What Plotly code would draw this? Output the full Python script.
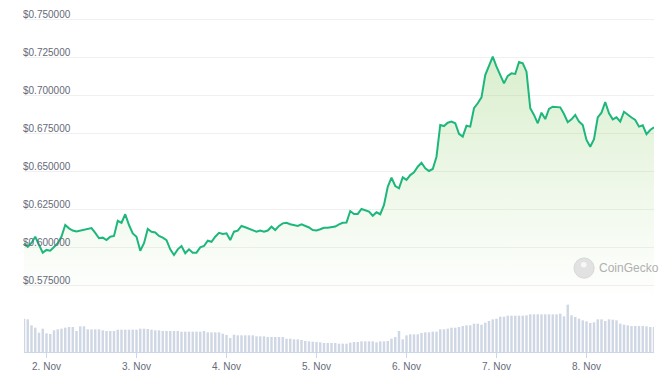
import plotly.graph_objects as go
import pandas as pd

# ---- data (hourly, 1 Nov 18:00 -> 8 Nov 18:00) ----
start_time = "2023-11-01 18:00"

price = [
    0.6025, 0.6002, 0.6027, 0.6068, 0.6015, 0.5963,
    0.5981, 0.5976, 0.6000, 0.6025, 0.6069, 0.6145, 0.6123, 0.6109, 0.6102, 0.6108, 0.6112, 0.6117,
    0.6125, 0.6093, 0.6058, 0.6062, 0.6046, 0.6068, 0.6073, 0.6173, 0.6160, 0.6216, 0.6145, 0.6090,
    0.6068, 0.5976, 0.6025, 0.6119, 0.6101, 0.6096, 0.6073, 0.6062, 0.6046, 0.5985, 0.5948, 0.5985,
    0.6007, 0.5959, 0.5985, 0.5963, 0.5963, 0.5998, 0.6007, 0.6042, 0.6035, 0.6068, 0.6094, 0.6086,
    0.6090, 0.6046, 0.6101, 0.6108, 0.6139, 0.6130, 0.6121, 0.6112, 0.6101, 0.6108, 0.6101, 0.6109,
    0.6134, 0.6112, 0.6139, 0.6156, 0.6160, 0.6150, 0.6145, 0.6139, 0.6150, 0.6139, 0.6129, 0.6112,
    0.6109, 0.6117, 0.6127, 0.6127, 0.6129, 0.6135, 0.6149, 0.6160, 0.6162, 0.6237, 0.6218, 0.6218,
    0.6251, 0.6244, 0.6233, 0.6206, 0.6229, 0.6216, 0.6277, 0.6397, 0.6457, 0.6402, 0.6387, 0.6459,
    0.6442, 0.6474, 0.6492, 0.6529, 0.6555, 0.6519, 0.6501, 0.6514, 0.6595, 0.6804, 0.6797, 0.6819,
    0.6826, 0.6815, 0.6745, 0.6727, 0.6799, 0.6793, 0.6914, 0.6947, 0.6986, 0.7133, 0.7188, 0.7254,
    0.7188, 0.7133, 0.7078, 0.7127, 0.7144, 0.7140, 0.7219, 0.7210, 0.7155, 0.6914, 0.6870, 0.6815,
    0.6885, 0.6843, 0.6909, 0.6924, 0.6922, 0.6920, 0.6876, 0.6822, 0.6841, 0.6870, 0.6826, 0.6804,
    0.6705, 0.6661, 0.6710, 0.6854, 0.6885, 0.6955, 0.6881, 0.6841, 0.6854, 0.6826, 0.6891, 0.6870,
    0.6853, 0.6837, 0.6793, 0.6802, 0.6743, 0.6771, 0.6789,
]

volume = [
    100, 98, 80, 73, 58, 70, 56, 54, 65, 68,
    70, 73, 75, 75, 63, 77, 77, 68, 68, 68,
    68, 65, 63, 63, 63, 67, 67, 67, 67, 67,
    67, 70, 70, 69, 67, 65, 65, 63, 63, 63,
    63, 63, 61, 61, 61, 61, 61, 61, 63, 59,
    59, 59, 59, 55, 51, 42, 52, 50, 50, 50,
    50, 50, 47, 47, 47, 45, 45, 45, 45, 45,
    40, 40, 38, 38, 36, 33, 32, 31, 30, 29,
    27, 27, 27,
    27, 25, 25, 25, 28, 30, 30, 32, 32, 32,
    32, 29, 32, 32, 33, 40, 45, 63, 38, 50,
    53, 53, 53, 57, 59, 59, 61, 61, 68, 68,
    70, 73, 73, 75, 78, 80, 80, 85, 85, 82,
    88, 93, 98, 100, 106, 106, 109, 109, 109, 109,
    109, 110, 113, 113, 113, 113, 113, 113, 113, 113,
    115, 107, 142, 110, 105, 100, 95, 92, 87, 89,
    98, 98, 93, 98, 97, 95, 85, 82, 80, 78,
    78, 78, 78, 77, 75, 75,
]

price_ticks = [0.575, 0.600, 0.625, 0.650, 0.675, 0.700, 0.725, 0.750]
price_tick_labels = ["$0.575000", "$0.600000", "$0.625000", "$0.650000",
                     "$0.675000", "$0.700000", "$0.725000", "$0.750000"]
day_ticks = ["2023-11-02", "2023-11-03", "2023-11-04", "2023-11-05",
             "2023-11-06", "2023-11-07", "2023-11-08"]
day_labels = ["2. Nov", "3. Nov", "4. Nov", "5. Nov", "6. Nov", "7. Nov", "8. Nov"]

times = pd.date_range(start_time, periods=len(price), freq="h")

LINE = "#1db77b"
LABEL = "#666a78"
FONT = "Liberation Sans, Arial, sans-serif"

fig = go.Figure()

fig.add_trace(go.Bar(
    x=times, y=volume, yaxis="y2",
    marker=dict(color="#cfd7e4", line=dict(width=0)),
    hoverinfo="skip", showlegend=False,
))

fig.add_trace(go.Scatter(
    x=times, y=price, mode="lines",
    line=dict(color=LINE, width=2),
    fill="tozeroy",
    fillgradient=dict(
        type="vertical",
        colorscale=[[0, "rgba(140,205,100,0.0)"], [1, "rgba(130,200,90,0.30)"]],
        start=0.565, stop=0.726,
    ),
    hoverinfo="skip", showlegend=False,
))

# page body has an 8px margin in the browser; compensate
W, H = 662, 375
ML, MR, MT, MB = 16, 16, 2, 31

fig.update_layout(
    width=W, height=H,
    margin=dict(l=ML, r=MR, t=MT, b=MB, pad=0),
    paper_bgcolor="white", plot_bgcolor="white",
    font=dict(family=FONT, size=10, color=LABEL),
    bargap=0.35,
    hovermode=False,
    xaxis=dict(
        type="date", anchor="y2",
        range=[times[0], times[-1]],
        tickvals=day_ticks, ticktext=day_labels,
        ticks="outside", ticklen=5, tickcolor="#ccd6eb", tickwidth=1,
        showline=True, linecolor="#ccd6eb", linewidth=1,
        showgrid=False, zeroline=False,
        tickfont=dict(size=10, color=LABEL),
    ),
    yaxis=dict(
        domain=[0.152, 1.0],
        range=[0.56512, 0.75611],
        tickvals=price_ticks,
        showticklabels=False,
        showgrid=True, gridcolor="#f0f0f0", gridwidth=1,
        zeroline=False, showline=False, ticks="",
    ),
    yaxis2=dict(
        domain=[0.0, 0.1462],
        range=[0, 150],
        visible=False,
    ),
)

# price labels sit inside the plot, just above their grid lines
for v, t in zip(price_ticks, price_tick_labels):
    fig.add_annotation(text=t, xref="paper", yref="y", x=0, y=v,
                       xanchor="left", yanchor="bottom", xshift=-3, yshift=-3,
                       showarrow=False, font=dict(family=FONT, size=10, color=LABEL))

# CoinGecko watermark
fig.add_shape(type="circle", xref="paper", yref="paper",
              x0=0.873, x1=0.905, y0=0.216, y1=0.275,
              fillcolor="#e2e2e2", line=dict(color="#d8d8d8", width=1), layer="above")
fig.add_shape(type="circle", xref="paper", yref="paper",
              x0=0.884, x1=0.893, y0=0.247, y1=0.263,
              fillcolor="#f7f7f7", line=dict(width=0), layer="above")
fig.add_annotation(text="CoinGecko", xref="paper", yref="paper",
                   x=0.9095, y=0.2456, xanchor="left", yanchor="middle",
                   showarrow=False, font=dict(family=FONT, size=12, color="#b0b0b0"))

fig.write_html("out.html", config={"displayModeBar": False})
